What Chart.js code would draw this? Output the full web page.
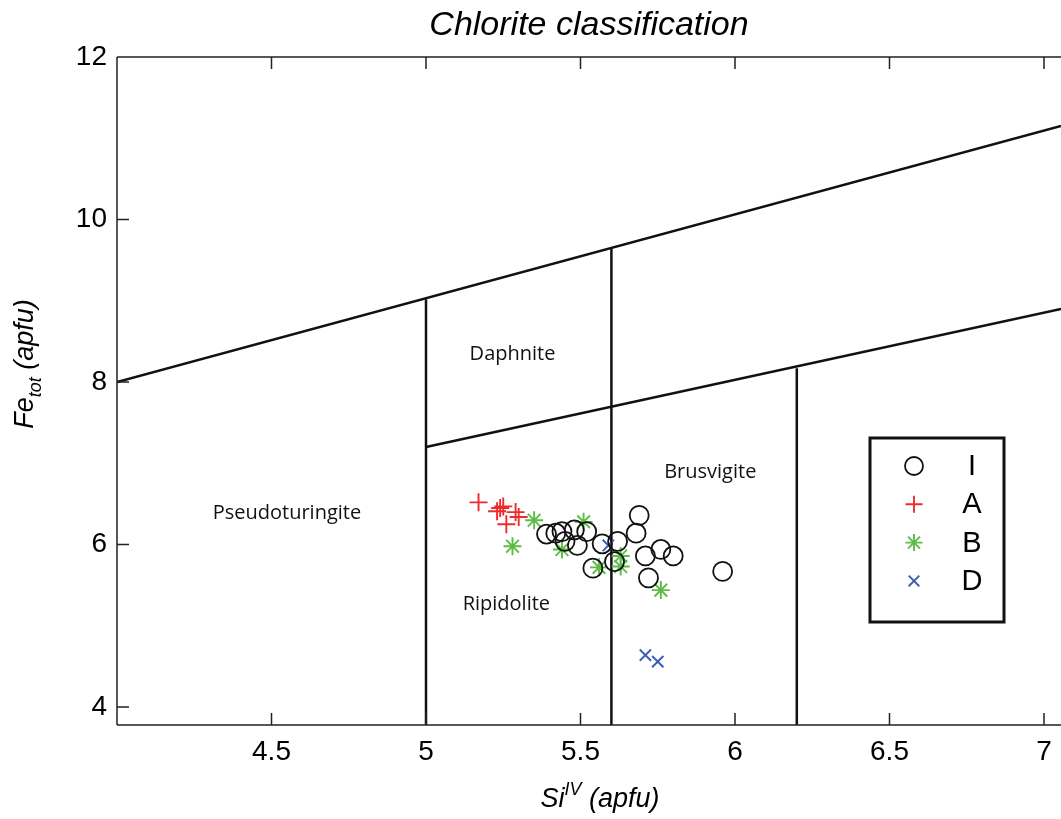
<!DOCTYPE html>
<html>
<head>
<meta charset="utf-8">
<script src="https://cdn.jsdelivr.net/npm/chart.js@4.4.1/dist/chart.umd.min.js"></script>
<style>
  html, body { margin: 0; padding: 0; background: #fff; }
</style>
</head>
<body>
<canvas id="graficoClorita" width="1061" height="819"></canvas>
<script>
// eixos
const xTicks = [4.5, 5, 5.5, 6, 6.5, 7]
const yTicks = [4, 6, 8, 10, 12]
const xMin = 4, xMax = 7.055
const yMin = 3.78, yMax = 12

// amostras (Si IV, Fe tot)
const siI = [5.39, 5.42, 5.44, 5.48, 5.52, 5.45, 5.49, 5.54, 5.57, 5.62, 5.61, 5.69, 5.68, 5.71, 5.76, 5.80, 5.72, 5.96]
const feI = [6.13, 6.14, 6.16, 6.18, 6.16, 6.04, 5.99, 5.71, 6.01, 6.04, 5.79, 6.36, 6.14, 5.86, 5.94, 5.86, 5.59, 5.67]
const siA = [5.17, 5.23, 5.24, 5.25, 5.26, 5.29, 5.30]
const feA = [6.52, 6.41, 6.45, 6.47, 6.25, 6.40, 6.34]
const siB = [5.35, 5.51, 5.28, 5.44, 5.63, 5.63, 5.56, 5.76]
const feB = [6.30, 6.28, 5.98, 5.94, 5.86, 5.73, 5.72, 5.44]
const siD = [5.59, 5.71, 5.75]
const feD = [5.99, 4.64, 4.56]

// limites dos campos
const limSuperiorX = [4, 7.055]
const limSuperiorY = [8, 11.15]
const limInferiorX = [5, 7.055]
const limInferiorY = [7.2, 8.9]
const verticaisX = [5, 5.6, 6.2]
const verticaisTopo = [9.02, 9.64, 8.17]

// nomes dos campos
const campos = ['Daphnite', 'Brusvigite', 'Pseudoturingite', 'Ripidolite']
const camposX = [5.28, 5.92, 4.55, 5.26]
const camposY = [8.34, 6.89, 6.39, 5.27]

const fonteNum = '"Liberation Sans"'

const pares = (xs, ys) => xs.map((x, i) => ({ x, y: ys[i] }))

const series = [
  { label: 'I', data: pares(siI, feI), pointStyle: 'circle', pointRadius: 9.5, borderColor: '#111', pointBorderWidth: 1.8 },
  { label: 'A', data: pares(siA, feA), pointStyle: 'cross', pointRadius: 9, borderColor: '#ee2b2b', pointBorderWidth: 1.9 },
  { label: 'B', data: pares(siB, feB), pointStyle: 'star', pointRadius: 9, borderColor: '#5dbb46', pointBorderWidth: 1.9 },
  { label: 'D', data: pares(siD, feD), pointStyle: 'crossRot', pointRadius: 8, borderColor: '#3b5db5', pointBorderWidth: 1.9 },
]

const linhas = [
  pares(limSuperiorX, limSuperiorY),
  pares(limInferiorX, limInferiorY),
  ...verticaisX.map((v, i) => pares([v, v], [yMin, verticaisTopo[i]])),
]

const datasets = [
  ...series.map(s => ({
    ...s,
    backgroundColor: 'rgba(0,0,0,0)',
    pointHoverRadius: s.pointRadius,
    showLine: false,
  })),
  ...linhas.map(l => ({
    data: l,
    showLine: true,
    borderColor: '#111',
    borderWidth: 2.5,
    pointRadius: 0,
    pointHoverRadius: 0,
  })),
]

function texto(ctx, str, x, y, font, align) {
  ctx.font = font
  ctx.textAlign = align || 'left'
  ctx.fillText(str, x, y)
  return ctx.measureText(str).width
}

const molduraPlugin = {
  id: 'moldura',
  afterDraw(chart) {
    const { ctx, chartArea: a } = chart
    const x = chart.scales.x, y = chart.scales.y
    ctx.save()

    // moldura e marcas internas
    ctx.strokeStyle = '#222'
    ctx.lineWidth = 1.5
    ctx.beginPath()
    ctx.moveTo(a.left, a.top); ctx.lineTo(a.right, a.top)
    ctx.moveTo(a.left, a.top); ctx.lineTo(a.left, a.bottom)
    ctx.moveTo(a.left, a.bottom); ctx.lineTo(a.right, a.bottom)
    xTicks.forEach(v => {
      const px = x.getPixelForValue(v)
      ctx.moveTo(px, a.bottom); ctx.lineTo(px, a.bottom - 12)
      ctx.moveTo(px, a.top); ctx.lineTo(px, a.top + 12)
    })
    yTicks.forEach(v => {
      const py = y.getPixelForValue(v)
      ctx.moveTo(a.left, py); ctx.lineTo(a.left + 12, py)
    })
    ctx.stroke()

    // nomes dos campos
    ctx.fillStyle = '#111'
    ctx.textBaseline = 'middle'
    campos.forEach((c, i) => {
      texto(ctx, c, x.getPixelForValue(camposX[i]), y.getPixelForValue(camposY[i]), '20px "Open Sans"', 'center')
    })

    // titulo
    ctx.fillStyle = '#000'
    ctx.textBaseline = 'alphabetic'
    texto(ctx, 'Chlorite classification', (a.left + a.right) / 2, 35, 'italic 34px "Liberation Sans"', 'center')

    // titulo eixo x
    const fx = 'italic 27px "Liberation Sans"', fxs = 'italic 18px "Liberation Sans"'
    ctx.font = fx
    const w1 = ctx.measureText('Si').width, w3 = ctx.measureText(' (apfu)').width
    ctx.font = fxs
    const w2 = ctx.measureText('IV').width
    let cx = 600 - (w1 + w2 + w3) / 2
    const by = 807
    cx += texto(ctx, 'Si', cx, by, fx)
    cx += texto(ctx, 'IV', cx, by - 12, fxs)
    texto(ctx, ' (apfu)', cx, by, fx)

    // titulo eixo y
    ctx.save()
    ctx.translate(33, 364)
    ctx.rotate(-Math.PI / 2)
    ctx.font = fx
    const v1 = ctx.measureText('Fe').width, v3 = ctx.measureText(' (apfu)').width
    ctx.font = fxs
    const v2 = ctx.measureText('tot').width
    let cy = -(v1 + v2 + v3) / 2
    cy += texto(ctx, 'Fe', cy, 0, fx)
    cy += texto(ctx, 'tot', cy, 8, fxs)
    texto(ctx, ' (apfu)', cy, 0, fx)
    ctx.restore()

    // legenda
    const lx = 870, ly = 438, lw = 134, lh = 184
    ctx.fillStyle = '#fff'
    ctx.fillRect(lx, ly, lw, lh)
    ctx.strokeStyle = '#111'
    ctx.lineWidth = 3
    ctx.strokeRect(lx, ly, lw, lh)
    series.forEach((s, i) => {
      const ry = 466 + i * 38.3
      ctx.strokeStyle = s.borderColor
      ctx.lineWidth = s.pointBorderWidth
      Chart.helpers.drawPoint(ctx, { pointStyle: s.pointStyle, radius: s.pointRadius - 0.5, rotation: 0, borderWidth: s.pointBorderWidth }, 914, ry)
      ctx.fillStyle = '#000'
      ctx.textBaseline = 'middle'
      texto(ctx, s.label, 972, ry + 1, '29px ' + fonteNum, 'center')
    })

    ctx.restore()
  }
}

const ctx = document.getElementById('graficoClorita').getContext('2d')
new Chart(ctx, {
  type: 'scatter',
  data: { datasets },
  options: {
    responsive: false,
    animation: false,
    layout: { autoPadding: false, padding: { top: 57, right: 0, left: 0, bottom: 0 } },
    plugins: {
      legend: { display: false },
      tooltip: { enabled: false },
    },
    scales: {
      x: {
        type: 'linear',
        min: xMin,
        max: xMax,
        afterBuildTicks: s => { s.ticks = xTicks.map(v => ({ value: v })) },
        afterFit: s => { s.height = 94; s.paddingLeft = 0; s.paddingRight = 0 },
        grid: { display: false, drawTicks: false },
        border: { display: false },
        ticks: {
          color: '#000',
          padding: 10,
          maxRotation: 0,
          font: { family: fonteNum, size: 28 },
          callback: v => String(v),
        },
      },
      y: {
        type: 'linear',
        min: yMin,
        max: yMax,
        afterBuildTicks: s => { s.ticks = yTicks.map(v => ({ value: v })) },
        afterFit: s => { s.width = 117; s.paddingTop = 0; s.paddingBottom = 0 },
        grid: { display: false, drawTicks: false },
        border: { display: false },
        ticks: {
          color: '#000',
          padding: 10,
          font: { family: fonteNum, size: 28 },
          callback: v => String(v),
        },
      },
    },
  },
  plugins: [molduraPlugin],
})
</script>
</body>
</html>
